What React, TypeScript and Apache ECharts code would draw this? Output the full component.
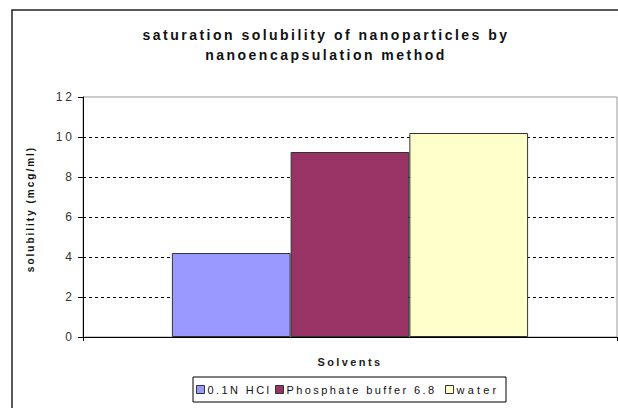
import React, { useEffect, useRef } from "react";
import * as echarts from "echarts";

const titleText = "saturation solubility of nanoparticles by\nnanoencapsulation method";
const categories = [""];
const seriesNames = ["0.1N HCl", "Phosphate buffer 6.8", "water"];
const hclValues = [4.2];
const phosphateValues = [9.25];
const waterValues = [10.2];
const seriesColors = ["#9999FF", "#993366", "#FFFFCC"];
const yTicks = { min: 0, max: 12, interval: 2 };
const legendLefts = [196, 275, 445];

export default function App() {
  const ref = useRef<HTMLDivElement>(null);
  useEffect(() => {
    if (!ref.current) return;
    const chart = echarts.init(ref.current, null, { renderer: "svg" });
    const values = [hclValues, phosphateValues, waterValues];
    const font = "'Liberation Sans', Arial, sans-serif";
    chart.setOption({
      animation: false,
      backgroundColor: "#fff",
      textStyle: { fontFamily: font },
      title: {
        text: titleText,
        left: 321,
        top: 20,
        textAlign: "center",
        textStyle: {
          fontFamily: font,
          fontWeight: "bold",
          fontSize: 14,
          lineHeight: 20,
          color: "#111",
        },
      },
      graphic: [
        {
          type: "rect",
          shape: { x: 12, y: 10, width: 640, height: 440 },
          style: { fill: "none", stroke: "#222", lineWidth: 1.5 },
          silent: true,
          z: -10,
        },
        {
          type: "rect",
          shape: { x: 193, y: 377, width: 313, height: 25 },
          style: { fill: "#fff", stroke: "#000", lineWidth: 1 },
          silent: true,
          z: -5,
        },
      ],
      legend: seriesNames.map((name, i) => ({
        left: legendLefts[i],
        top: 384,
        orient: "horizontal",
        data: [name],
        itemWidth: 8,
        itemHeight: 8,
        padding: 0,
        selectedMode: false,
        icon: "rect",
        textStyle: { fontFamily: font, fontSize: 11, color: "#111", padding: [0, 0, 0, -2] },
        itemStyle: { borderColor: "#333", borderWidth: 1 },
      })),
      grid: {
        left: 83,
        right: 1,
        top: 97,
        bottom: 71,
        show: true,
        borderColor: "#999",
        borderWidth: 1,
        backgroundColor: "transparent",
      },
      xAxis: {
        type: "category",
        data: categories,
        name: "Solvents",
        nameLocation: "middle",
        nameGap: 19,
        nameTextStyle: { fontFamily: font, fontWeight: "bold", fontSize: 11, color: "#222" },
        axisLine: { show: true, lineStyle: { color: "#000", width: 1 } },
        axisTick: { show: true, length: 4, lineStyle: { color: "#000" } },
        axisLabel: { show: false },
        splitLine: { show: false },
      },
      yAxis: {
        type: "value",
        min: yTicks.min,
        max: yTicks.max,
        interval: yTicks.interval,
        name: "solubility (mcg/ml)",
        nameLocation: "middle",
        nameGap: 48,
        nameTextStyle: {
          fontFamily: font,
          fontWeight: "bold",
          fontSize: 10,
          color: "#111",
          padding: [0, 0, 0, 16],
        },
        axisLine: { show: true, lineStyle: { color: "#000", width: 1 } },
        axisTick: { show: true, length: 5, lineStyle: { color: "#000" } },
        axisLabel: { fontFamily: font, fontSize: 12, color: "#333", margin: 8 },
        splitLine: {
          show: true,
          lineStyle: {
            color: ["transparent", "#000", "#000", "#000", "#000", "#000", "transparent"],
            type: [3, 3],
            width: 1,
          },
        },
      },
      series: seriesNames.map((name, i) => ({
        name,
        type: "bar",
        data: values[i],
        barGap: "0%",
        barCategoryGap: "33.3%",
        silent: true,
        itemStyle: { color: seriesColors[i], borderColor: "#333", borderWidth: 1 },
      })),
    });
    const spacingFor = (t: string): number => {
      if (t.startsWith("saturation") || t.startsWith("nanoencapsulation")) return 2.48;
      if (t.startsWith("solubility")) return 2;
      if (/^\d+$/.test(t)) return 3;
      if (t === "water") return 3.2;
      return 2.4;
    };
    ref.current.querySelectorAll("text").forEach((el) => {
      const t = el.textContent || "";
      el.setAttribute("letter-spacing", String(spacingFor(t)));
    });
    return () => chart.dispose();
  }, []);
  return (
    <div
      ref={ref}
      style={{ position: "fixed", left: 0, top: 0, width: 618, height: 408 }}
    />
  );
}
